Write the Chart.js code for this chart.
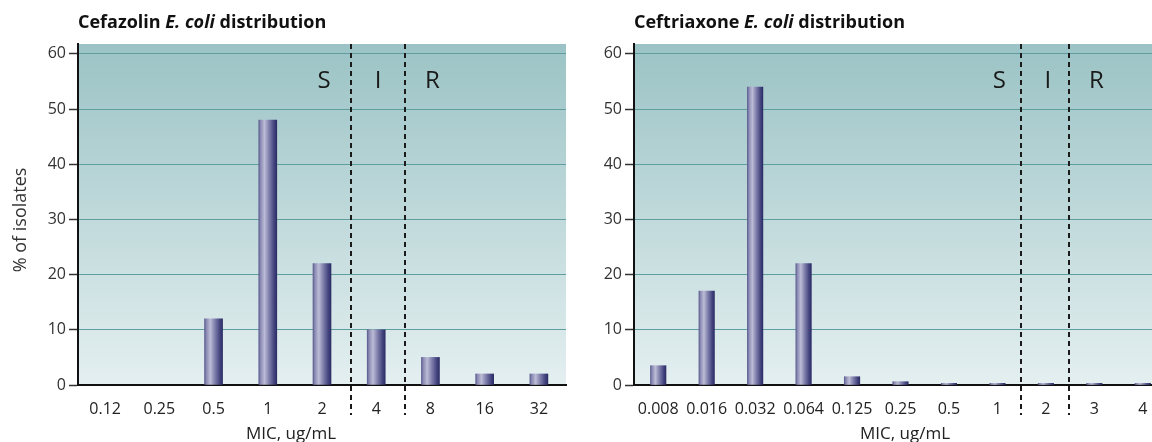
<!DOCTYPE html>
<html>
<head>
<meta charset="utf-8">
<script src="https://cdn.jsdelivr.net/npm/chart.js@4/dist/chart.umd.min.js"></script>
<style>
	html, body { margin: 0; padding: 0; background: #fff; overflow: hidden; width: 1152px; height: 442px; }
	canvas { position: absolute; top: 0; }
	#leftChart { left: 0px; }
	#rightChart { left: 576px; }
</style>
</head>
<body>
<canvas id="leftChart" width="576" height="442"></canvas>
<canvas id="rightChart" width="600" height="442"></canvas>
<script>
// cefazolin data
const cefazolinMic = ['0.12', '0.25', '0.5', '1', '2', '4', '8', '16', '32'];
const cefazolinPct = [0, 0, 12, 48, 22, 10, 5, 2, 2];
const cefazolinSIR = ['2', '4', '8'];   // last S, I, first R category

// ceftriaxone data
const ceftriaxoneMic = ['0.008', '0.016', '0.032', '0.064', '0.125', '0.25', '0.5', '1', '2', '3', '4'];
const ceftriaxonePct = [3.5, 17, 54, 22, 1.5, 0.6, 0.3, 0.3, 0.3, 0.3, 0.3];
const ceftriaxoneSIR = ['1', '2', '3'];

const yTicks = [0, 10, 20, 30, 40, 50, 60];
const FONT = "'Open Sans', 'Noto Sans', sans-serif";

// cylinder look for each bar
function barFill(c)
{
	const chart = c.chart;
	const xs = chart.scales.x;
	const w = c.dataset.barThickness;
	if (c.raw === 0) return 'rgba(0,0,0,0)';
	if (!xs || c.dataIndex === undefined) return '#44447f';
	const cx = xs.getPixelForValue(c.dataIndex);
	if (!isFinite(cx) || !isFinite(w)) return '#44447f';
	const g = chart.ctx.createLinearGradient(cx - w / 2, 0, cx + w / 2, 0);
	g.addColorStop(0, '#5c5c90');
	g.addColorStop(0.1, '#8a8ab4');
	g.addColorStop(0.32, '#bcbcd6');
	g.addColorStop(0.55, '#8484b0');
	g.addColorStop(0.85, '#44447e');
	g.addColorStop(1, '#2c2c66');
	return g;
}

const decorPlugin = {
	id: 'decor',
	beforeDraw(chart, args, opts)
	{
		const a = chart.chartArea;
		const ctx = chart.ctx;
		const g = ctx.createLinearGradient(0, a.top, 0, a.bottom);
		g.addColorStop(0, '#9bc3c5');
		g.addColorStop(1, '#e4eff0');
		ctx.save();
		ctx.fillStyle = g;
		ctx.fillRect(a.left, a.top, a.right - a.left, a.bottom - a.top);
		ctx.restore();
	},
	afterDraw(chart, args, opts)
	{
		const ctx = chart.ctx;
		const xs = chart.scales.x;
		const ys = chart.scales.y;
		const a = chart.chartArea;
		const cats = chart.data.labels;
		ctx.save();

		// breakpoint lines
		ctx.strokeStyle = '#1a1a1a';
		ctx.lineWidth = 2;
		ctx.setLineDash([5, 4]);
		for (let k = 0; k < 2; k++) {
			const i = cats.indexOf(opts.sir[k]);
			const x = Math.round((xs.getPixelForValue(i) + xs.getPixelForValue(i + 1)) / 2) + opts.lineShift;
			ctx.beginPath();
			ctx.moveTo(x, a.top);
			ctx.lineTo(x, 415);
			ctx.stroke();
		}
		ctx.setLineDash([]);

		// S I R letters
		ctx.fillStyle = '#1a1a1a';
		ctx.font = `24px ${FONT}`;
		ctx.textAlign = 'center';
		ctx.textBaseline = 'middle';
		['S', 'I', 'R'].forEach((t, k) => {
			const x = xs.getPixelForValue(cats.indexOf(opts.sir[k])) + 2;
			ctx.fillText(t, x, ys.getPixelForValue(55));
		});

		// title with italic species
		ctx.textAlign = 'left';
		ctx.textBaseline = 'alphabetic';
		let x = a.left;
		const parts = [[opts.drug + ' ', 'bold'], ['E. coli', 'italic bold'], [' distribution', 'bold']];
		parts.forEach(p => {
			ctx.font = `${p[1]} 18px ${FONT}`;
			ctx.fillStyle = '#111';
			ctx.fillText(p[0], x, 28);
			x += ctx.measureText(p[0]).width;
		});

		// x axis title
		ctx.font = `17px ${FONT}`;
		ctx.fillStyle = '#222';
		ctx.textAlign = 'center';
		ctx.fillText('MIC, ug/mL', opts.xTitleX, 439);

		// y axis title
		if (opts.yTitle) {
			ctx.translate(21, 220);
			ctx.rotate(-Math.PI / 2);
			ctx.textBaseline = 'middle';
			ctx.fillStyle = '#333';
			ctx.font = `18px ${FONT}`;
			ctx.fillText(opts.yTitle, 0, 0);
		}
		ctx.restore();
	}
};

function makeChart(canvasId, labels, values, sir, drug, yWidth, rightPad, barW, xTitleX, yTitle, lineShift)
{
	return new Chart(document.getElementById(canvasId).getContext('2d'), {
		type: 'bar',
		data: {
			labels: labels,
			datasets: [{
				data: values,
				backgroundColor: barFill,
				borderWidth: 0,
				barThickness: barW
			}]
		},
		options: {
			responsive: false,
			animation: false,
			layout: { padding: { top: 44, right: rightPad, left: 0, bottom: 0 } },
			plugins: {
				legend: { display: false },
				tooltip: { enabled: false },
				decor: { sir: sir, drug: drug, xTitleX: xTitleX, yTitle: yTitle, lineShift: lineShift }
			},
			scales: {
				x: {
					offset: true,
					grid: { display: false, drawTicks: false },
					border: { display: true, color: '#111', width: 2 },
					ticks: { color: '#222', font: { family: FONT, size: 16 }, padding: 15, maxRotation: 0, autoSkip: false },
					afterFit: (s) => { s.height = 57; }
				},
				y: {
					min: 0,
					max: 61.8,
					afterBuildTicks: (s) => { s.ticks = yTicks.map(v => ({ value: v })); },
					grid: { color: '#5f9d9f', lineWidth: 1, tickColor: '#333', tickLength: 9, tickWidth: 1.5 },
					border: { display: true, color: '#111', width: 2 },
					ticks: { color: '#333', font: { family: FONT, size: 16 }, padding: 3 },
					afterFit: (s) => { s.width = yWidth; }
				}
			}
		},
		plugins: [decorPlugin]
	});
}

makeChart('leftChart', cefazolinMic, cefazolinPct, cefazolinSIR, 'Cefazolin', 78, 10, 18, 291, '% of isolates', 2);
makeChart('rightChart', ceftriaxoneMic, ceftriaxonePct, ceftriaxoneSIR, 'Ceftriaxone', 58, 9, 15.5, 329, null, -1);
</script>
</body>
</html>
